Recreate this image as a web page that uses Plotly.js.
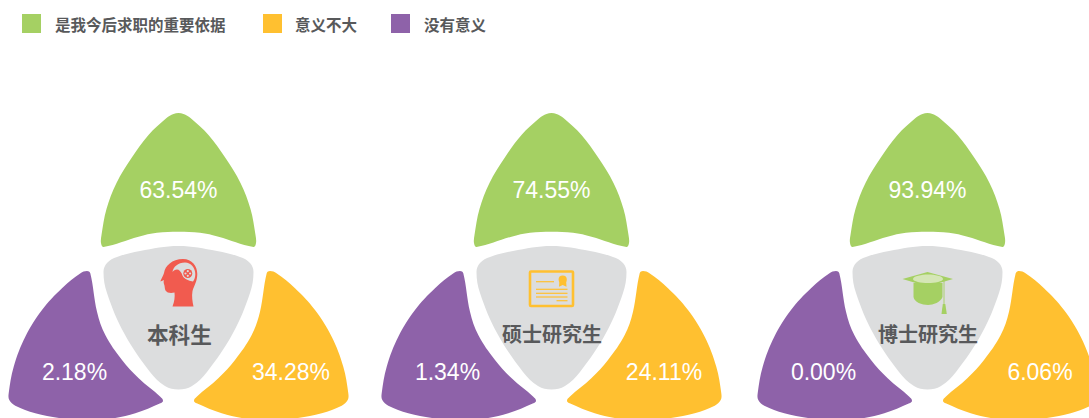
<!DOCTYPE html>
<html>
<head>
<meta charset="utf-8">
<script src="https://cdn.plot.ly/plotly-3.0.1.min.js"></script>
<style>html,body{margin:0;padding:0;background:#fff}#c{width:1089px;height:418px}</style>
</head>
<body>
<div id="c"></div>
<script>
// ---------- data ----------
var categories = ['本科生', '硕士研究生', '博士研究生'];
var seriesNames = ['是我今后求职的重要依据', '意义不大', '没有意义'];
var importantValues = [63.54, 74.55, 93.94];
var littleValues = [34.28, 24.11, 6.06];
var noneValues = [2.18, 1.34, 0.00];

// ---------- style ----------
var GREEN = '#a5d063', ORANGE = '#ffc030', PURPLE = '#8e62a9', GRAY = '#dcddde', TEXT = '#58595b', RED = '#f15b4f';
var centers = [178.5, 551.5, 927.5];
var sansCJK = '"Noto Sans CJK SC", "Noto Sans", sans-serif';

// petal outlines relative to group centre (x offset from centre, y in page units)
var greenHalf = [[0,113],[5,114],[12,118],[30,135],[47,158],[62,183],[72,209],[77,235],[77.5,243],[75,247],[40,236.7],[21.5,232.8],[0,231.7]];
var grayHalf = [[0,246],[38.5,251],[61.5,257],[71.5,263],[75,272],[71.5,293],[54.5,333],[28.5,372],[13.5,386],[0,389.5]];
var orangeOutline = [[91.5,271],[98,273.3],[116.5,288.3],[136.5,310],[153.2,336.7],[164.8,366.7],[169.8,393.3],[169.2,400],[163.2,405.7],[143.2,413.3],[119.5,418],[90,422],[63.2,418],[43.2,413.3],[18.2,403.3],[15.5,400.7],[18.2,396.7],[39.8,378.3],[56.5,360],[73.2,335],[81.5,311.7],[88.2,273.3]];

function mirrorClosed(half) {
  var out = half.slice();
  for (var i = half.length - 2; i > 0; i--) out.push([-half[i][0], half[i][1]]);
  return out;
}
function smoothPath(pts) {
  var n = pts.length;
  function tangent(i) {
    var a = pts[(i - 1 + n) % n], b = pts[(i + 1) % n];
    var dx = b[0] - a[0], dy = b[1] - a[1], l = Math.hypot(dx, dy) || 1;
    return [dx / l, dy / l];
  }
  var d = 'M' + pts[0][0] + ',' + pts[0][1];
  for (var i = 0; i < n; i++) {
    var p1 = pts[i], p2 = pts[(i + 1) % n], t1 = tangent(i), t2 = tangent((i + 1) % n);
    var h = Math.hypot(p2[0] - p1[0], p2[1] - p1[1]) * 0.36;
    d += ' C' + (p1[0] + t1[0] * h) + ',' + (p1[1] + t1[1] * h) +
         ' ' + (p2[0] - t2[0] * h) + ',' + (p2[1] - t2[1] * h) +
         ' ' + p2[0] + ',' + p2[1];
  }
  return d + ' Z';
}
function shift(pts, cx, sign) { return pts.map(function (p) { return [cx + (sign || 1) * p[0], p[1]]; }); }
function fillShape(path, color) {
  return {type: 'path', xref: 'x', yref: 'y', layer: 'below', path: path, fillcolor: color, line: {width: 0}};
}
function strokeShape(path, color, w) {
  return {type: 'path', xref: 'x', yref: 'y', layer: 'below', path: path, fillcolor: 'rgba(0,0,0,0)', line: {color: color, width: w}};
}
function circle(cx, cy, r, fill) {
  return {type: 'circle', xref: 'x', yref: 'y', layer: 'below', x0: cx - r, x1: cx + r, y0: cy - r, y1: cy + r, fillcolor: fill, line: {width: 0}};
}

var shapes = [];
centers.forEach(function (c) {
  shapes.push(fillShape(smoothPath(shift(mirrorClosed(greenHalf), c)), GREEN));
  shapes.push(fillShape(smoothPath(shift(mirrorClosed(grayHalf), c)), GRAY));
  shapes.push(fillShape(smoothPath(shift(orangeOutline, c)), ORANGE));
  shapes.push(fillShape(smoothPath(shift(orangeOutline, c, -1)), PURPLE));
});

// --- head icon
shapes.push(fillShape('M183,259 C192,259 197.3,266 197.3,274 C197.3,281 194,286 192.5,291 C191.5,296 192.5,302 193.5,306.5 L172.5,306.5 C174.5,301 175,297 174.5,292.5 C171,293.5 167,293 165.5,290.5 C164.5,288.5 165,286.5 164,284 C163.5,282.5 163.5,281 164,280 L160.5,281.5 C160.5,280 163,276.5 164,273 C165,266 172,259 183,259 Z', RED));
shapes.push(fillShape('M172.5,272 C173,267 178,262.5 185,262.5 C191,262.5 195.3,268 195.3,274 C195.3,277 194.5,279.5 193,281.5 C188,281 184.5,279 182.5,275 C181,271.5 179,269.5 177,269.5 C175,269.5 173.5,270.5 172.5,272 Z', GRAY));
shapes.push(circle(187.8, 273.5, 5.6, GRAY));
shapes.push(circle(187.8, 273.5, 4.5, RED));
[[187.8,271.2],[190.1,273.5],[187.8,275.8],[185.5,273.5]].forEach(function (p) { shapes.push(circle(p[0], p[1], 1.1, GRAY)); });

// --- certificate icon
shapes.push(strokeShape('M531,271.5 L572,271.5 Q573,271.5 573,272.5 L573,305 Q573,306 572,306 L531,306 Q530,306 530,305 L530,272.5 Q530,271.5 531,271.5 Z', ORANGE, 2.6));
[[536,554,281.7],[536,567.5,289.3],[536,567.5,293.3],[536,567.5,297],[556.5,567.5,300.7]].forEach(function (l) {
  shapes.push({type: 'line', xref: 'x', yref: 'y', layer: 'below', x0: l[0], x1: l[1], y0: l[2], y1: l[2], line: {color: ORANGE, width: 1.2}});
});
shapes.push(fillShape('M559,286.8 L559.5,279 L566,279 L566.5,286.8 L562.7,285 Z', ORANGE));
shapes.push(circle(562.7, 279.5, 4.1, ORANGE));

// --- mortarboard icon
shapes.push(fillShape('M913.5,283 L942.5,283 L942.5,297 C941,302 933,305 928,305 C922,305 914,302 913.5,297 Z', GREEN));
shapes.push(fillShape('M902.5,279 L927.5,272 L953,279 L927.5,286.5 Z', GREEN));
shapes.push(fillShape('M913,279 C913,276 922,274.5 928,274.5 C935,274.5 943,276 943,279 C943,281.5 935,283 928,283 C921,283 913,281.5 913,279 Z', '#d5e6b6'));
shapes.push({type: 'line', xref: 'x', yref: 'y', layer: 'below', x0: 944, x1: 944, y0: 281, y1: 305, line: {color: GREEN, width: 0.9}});
shapes.push(fillShape('M942.8,304 L945.3,304 L946.8,314 L941.5,314 Z', GREEN));

// ---------- traces ----------
var fmt = function (v) { return v.toFixed(2) + '%'; };
function valueTrace(vals, xs, y, name) {
  return {type: 'scatter', mode: 'text', x: xs, y: vals.map(function () { return y; }), text: vals.map(fmt),
    textposition: 'middle center', textfont: {family: '"Liberation Sans", Arial, sans-serif', size: 23, color: '#ffffff'},
    hoverinfo: 'skip', showlegend: false, name: name};
}
function swatch(x, color, name) {
  return {type: 'scatter', mode: 'markers', x: [x], y: [23.5], marker: {symbol: 'square', size: 19, color: color, line: {width: 0}},
    hoverinfo: 'skip', showlegend: false, name: name};
}
var traces = [
  valueTrace(importantValues, centers, 192, seriesNames[0]),
  valueTrace(littleValues, centers.map(function (c) { return c + 112.5; }), 374, seriesNames[1]),
  valueTrace(noneValues, centers.map(function (c) { return c - 104; }), 374, seriesNames[2]),
  swatch(31.5, GREEN, seriesNames[0]),
  swatch(272.5, ORANGE, seriesNames[1]),
  swatch(400.5, PURPLE, seriesNames[2])
];

// ---------- text ----------
var annotations = [];
var legendX = [54.5, 294.5, 423.5];
seriesNames.forEach(function (s, i) {
  annotations.push({x: legendX[i], y: 24, xref: 'x', yref: 'y', xanchor: 'left', yanchor: 'middle', showarrow: false, text: s,
    borderpad: 0, borderwidth: 0, font: {family: sansCJK, size: 15.5, color: TEXT, weight: 700}});
});
categories.forEach(function (s, i) {
  annotations.push({x: centers[i] + 0.5, y: 333, xref: 'x', yref: 'y', xanchor: 'center', yanchor: 'middle', showarrow: false, text: s,
    borderpad: 0, font: {family: sansCJK, size: i === 0 ? 21.6 : 20, color: TEXT, weight: 700}});
});

Plotly.newPlot('c', traces, {
  width: 1089, height: 418, margin: {l: 0, r: 0, t: 0, b: 0, pad: 0},
  paper_bgcolor: '#ffffff', plot_bgcolor: '#ffffff', showlegend: false,
  xaxis: {range: [0, 1089], visible: false, fixedrange: true},
  yaxis: {range: [418, 0], visible: false, fixedrange: true},
  shapes: shapes, annotations: annotations
}, {displayModeBar: false, staticPlot: true});
</script>
</body>
</html>
